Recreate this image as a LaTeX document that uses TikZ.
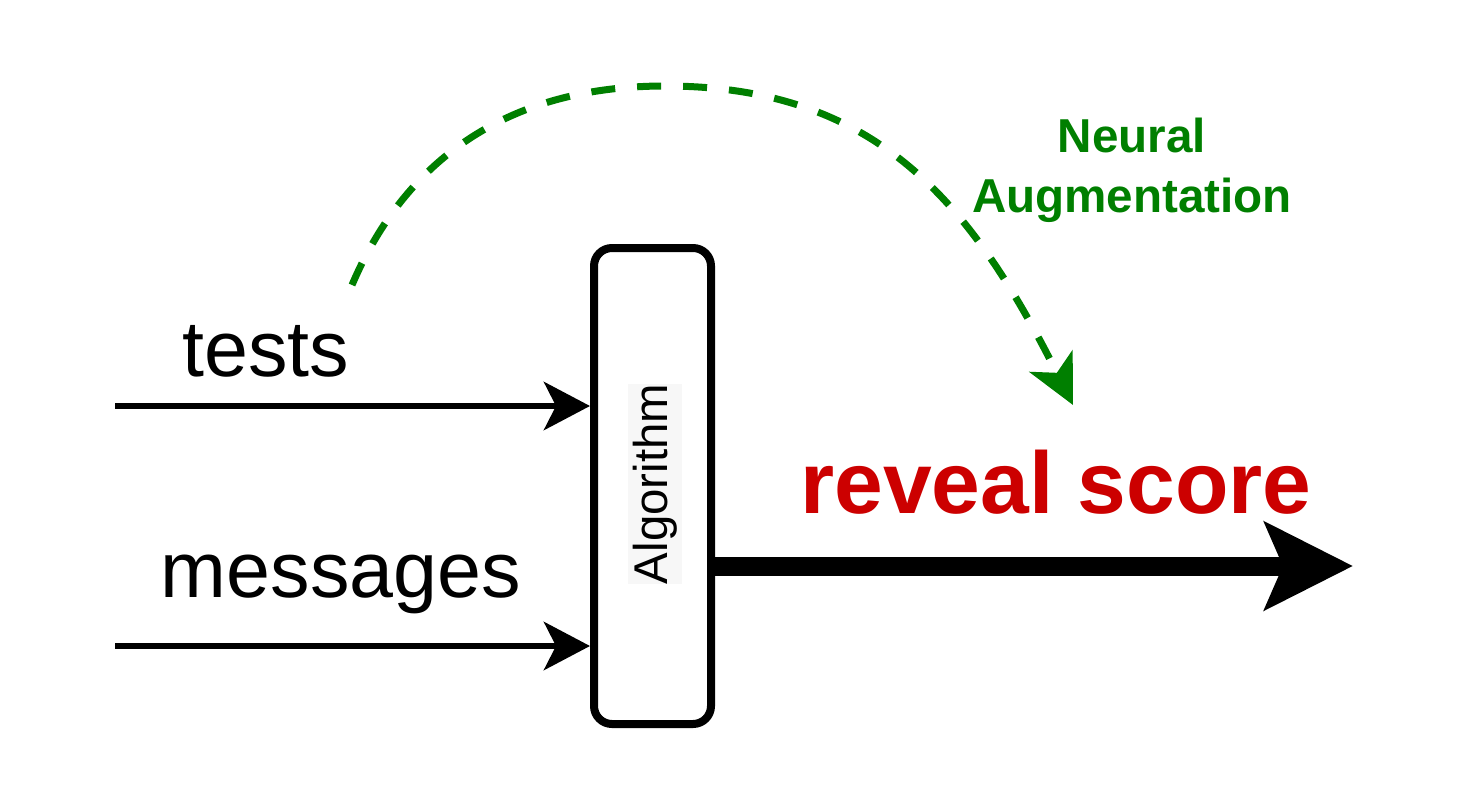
\documentclass[tikz,border=0pt]{standalone}
\usepackage{fontspec}
\setmainfont{Liberation Sans}
\usetikzlibrary{arrows.meta}
\definecolor{augreen}{HTML}{007F00}
\definecolor{scorered}{HTML}{CC0000}
\tikzset{
  algbox/.style={draw=black, line width=4pt, rounded corners=9pt, fill=white,
    minimum width=58.5pt, minimum height=238pt, inner sep=0pt},
  inlabel/.style={font=\fontsize{39.5}{45}\selectfont, anchor=base, inner sep=0pt},
  inarrow/.style={line width=3.4pt, -{Stealth[length=23pt,width=24pt,inset=6pt]}},
  outarrow/.style={line width=9.5pt, -{Stealth[length=44pt,width=43.5pt,inset=9pt]}},
  augarrow/.style={augreen, line width=3.5pt, dash pattern=on 12pt off 11pt,
    -{Stealth[length=24.5pt,width=24pt,inset=6.5pt]}},
}
\begin{document}
\begin{tikzpicture}[x=0.5pt,y=-0.5pt]
\useasboundingbox (0,0) rectangle (1476,808);
% Algorithm box
\node[algbox] (alg) at (652.5,486) {};
\node[rotate=90, fill=black!3, inner xsep=0pt, inner ysep=2.5pt,
      font=\fontsize{23.7}{28}\selectfont] (algtxt) at (655,484) {Algorithm};
% inputs
\coordinate (tin) at (115,406);
\coordinate (min) at (115,646);
\draw[inarrow] (tin) -- (alg.west |- tin);
\draw[inarrow] (min) -- (alg.west |- min);
\node[inlabel] (tests) at (266,376) {tests};
\node[inlabel] (msgs) at (341,597) {messages};
% output
\coordinate (out) at (1353,566);
\draw[outarrow] (alg.east |- out) -- (out);
\node[font=\fontsize{43.8}{50}\selectfont\bfseries, text=scorered, anchor=base, inner sep=0pt]
  (score) at (1056,513) {reveal score};
% neural augmentation
\coordinate (ns) at (352,285);
\coordinate (ne) at (1073,405);
\draw[augarrow] (ns) .. controls (400,172) and (495,86) .. (665,86)
  .. controls (875,86) and (970,200) .. (ne);
\node[font=\fontsize{23.8}{30}\selectfont\bfseries, text=augreen, align=center, inner sep=0pt]
  (aug) at (1132,170) {Neural\\Augmentation};
\end{tikzpicture}
\end{document}
